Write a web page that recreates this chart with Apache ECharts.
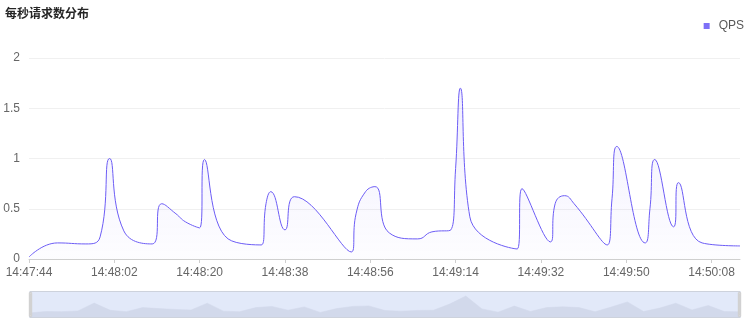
<!DOCTYPE html>
<html>
<head>
<meta charset="utf-8">
<script src="https://cdn.jsdelivr.net/npm/echarts@6/dist/echarts.min.js"></script>
<style>
html,body{margin:0;padding:0;background:#fff;}
#chart{width:749px;height:322px;}
</style>
</head>
<body>
<div id="chart"></div>
<script>
// time stamps of each sample
var times = [
  '14:47:44','14:47:50','14:47:56','14:47:59','14:48:01','14:48:04','14:48:10','14:48:12','14:48:15','14:48:17',
  '14:48:20','14:48:21','14:48:26','14:48:33','14:48:34','14:48:35','14:48:38','14:48:40','14:48:52','14:48:53',
  '14:48:55','14:48:57','14:49:00','14:49:06','14:49:09','14:49:13','14:49:14','14:49:15','14:49:17','14:49:27',
  '14:49:28','14:49:34','14:49:35','14:49:37','14:49:39','14:49:46','14:49:47','14:49:48','14:49:54','14:49:55',
  '14:49:56','14:50:00','14:50:01','14:50:06','14:50:14'
];
// QPS values
var qps = [
  0.02,0.16,0.15,0.22,1.0,0.28,0.15,0.55,0.45,0.37,
  0.31,0.99,0.2,0.14,0.55,0.67,0.29,0.62,0.07,0.45,
  0.67,0.72,0.26,0.2,0.27,0.29,0.9,1.7,0.42,0.1,
  0.7,0.17,0.55,0.63,0.55,0.14,0.6,1.12,0.16,0.5,
  0.99,0.32,0.76,0.16,0.13
];
var yTicks = [0, 0.5, 1, 1.5, 2];
var seriesName = 'QPS';
var title = '每秒请求数分布';

function toSec(s){var p=s.split(':');return (+p[0])*3600+(+p[1])*60+(+p[2]);}
function pad(n){return (n<10?'0':'')+n;}
function fmt(v){v=Math.round(v);return pad(Math.floor(v/3600))+':'+pad(Math.floor(v%3600/60))+':'+pad(v%60);}

var secs = times.map(toSec);
var data = secs.map(function(t,i){return [t, qps[i]];});

var chart = echarts.init(document.getElementById('chart'), null, {renderer:'canvas'});
chart.setOption({
  animation:false,
  title:{text:title,left:0,top:2,textStyle:{fontSize:12,fontWeight:'bold',color:'#262626',fontFamily:'Noto Sans CJK SC'}},
  legend:{right:0,top:15,icon:'rect',itemWidth:6,itemHeight:6,itemGap:6,
    textStyle:{fontSize:12,color:'#595959',fontFamily:'Arial, Liberation Sans',padding:[0,0,0,4]},
    data:[{name:seriesName,itemStyle:{color:'#7d70f7'}}]},
  grid:{left:29,right:9,top:58,bottom:63},
  xAxis:{type:'value',min:secs[0],max:secs[secs.length-1],interval:18,
    axisLine:{lineStyle:{color:'#cfcfcf'}},
    axisTick:{show:true,length:4,lineStyle:{color:'#cfcfcf'}},
    splitLine:{show:false},
    axisLabel:{formatter:fmt,showMaxLabel:false,showMinLabel:true,margin:8,fontSize:12,color:'#666',fontFamily:'Arial, Liberation Sans'}},
  yAxis:{type:'value',min:yTicks[0],max:yTicks[yTicks.length-1],interval:0.5,
    axisLine:{show:false},axisTick:{show:false},
    splitLine:{lineStyle:{color:'#f0f0f0'}},
    axisLabel:{margin:9,fontSize:12,color:'#666',fontFamily:'Arial, Liberation Sans'}},
  dataZoom:[{type:'slider',xAxisIndex:0,left:27,right:11,bottom:4,height:27,
    showDetail:false,brushSelect:false,moveHandleSize:0,
    backgroundColor:'#e6ebfa',fillerColor:'rgba(220,228,250,0.3)',borderColor:'#cdd2dc',
    handleIcon:'path://M0,0 L10,0 L10,100 L0,100 Z M3,8 L7,8 L7,92 L3,92 Z',
    handleSize:'88%',handleStyle:{color:'#d9d9d9',borderColor:'#d0d0d0'},
    dataBackground:{lineStyle:{color:'#cdd3e4',width:0.5,opacity:1},areaStyle:{color:'#cfd5e5',opacity:1}},
    selectedDataBackground:{lineStyle:{color:'#cdd3e4',width:0.5,opacity:1},areaStyle:{color:'#cfd5e5',opacity:1}}
  }],
  series:[{name:seriesName,type:'line',data:data,smooth:0.5,showSymbol:false,
    lineStyle:{color:'#6c5cf5',width:1},itemStyle:{color:'#6c5cf5'},
    areaStyle:{color:new echarts.graphic.LinearGradient(0,0,0,1,[{offset:0,color:'rgba(108,92,245,0.14)'},{offset:1,color:'rgba(108,92,245,0.02)'}])}
  }]
});
</script>
</body>
</html>
